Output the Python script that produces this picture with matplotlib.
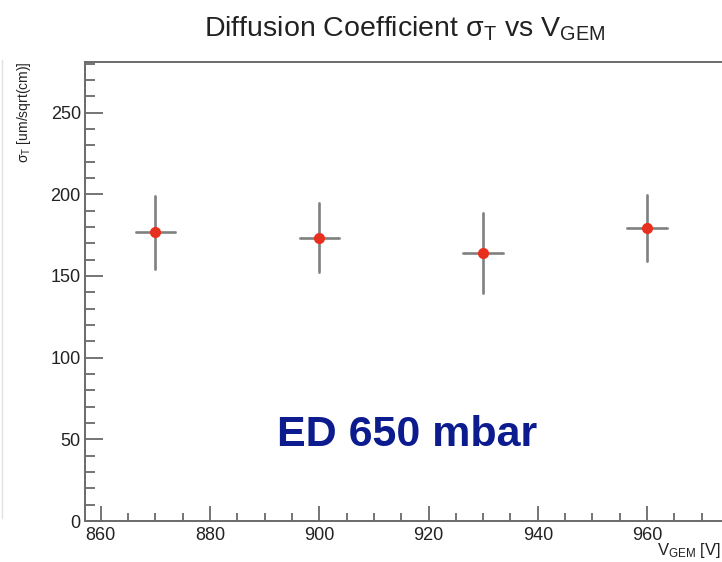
import matplotlib
matplotlib.use("Agg")
import matplotlib.pyplot as plt
from matplotlib.ticker import MultipleLocator
from matplotlib.lines import Line2D

plt.rcParams['font.family'] = ['Liberation Sans', 'DejaVu Sans']
plt.rcParams['mathtext.fontset'] = 'custom'
plt.rcParams['mathtext.rm'] = 'Liberation Sans'
plt.rcParams['mathtext.it'] = 'Liberation Sans'

# Measured transverse diffusion vs GEM voltage
v_gem = [870, 900, 930, 960]
sigma_t = [176.7, 173.4, 164.0, 179.5]
sigma_err = [22.3, 21.0, 24.3, 20.2]
v_err = [3.6, 3.6, 3.6, 3.6]

x_ticks = [860, 880, 900, 920, 940, 960]
y_ticks = [0, 50, 100, 150, 200, 250]

W, H = 722, 562
fig = plt.figure(figsize=(W / 100, H / 100), dpi=100)
ax = fig.add_axes([85 / W, (H - 521) / H, 639 / W, 459 / H])

axis_col = '#6a6a6a'
text_col = '#222222'

ax.errorbar(v_gem, sigma_t, yerr=sigma_err, xerr=v_err, fmt='o',
            color='#e8301e', markersize=7, ecolor='#808080',
            elinewidth=1.9, capsize=1.0, capthick=1.9, zorder=3)

ax.set_xlim(857.1, 974.1)
ax.set_ylim(0, 281)
ax.set_xticks(x_ticks)
ax.set_yticks(y_ticks)
ax.xaxis.set_minor_locator(MultipleLocator(5))
ax.yaxis.set_minor_locator(MultipleLocator(10))

for s in ax.spines.values():
    s.set_color(axis_col)
    s.set_linewidth(1.4)

ax.tick_params(axis='both', which='both', direction='in', color=axis_col,
               width=1.3, labelcolor=text_col, labelsize=13)
ax.tick_params(axis='y', which='major', length=13, pad=3)
ax.tick_params(axis='y', which='minor', length=7)
ax.tick_params(axis='x', which='major', length=10.5, pad=4)
ax.tick_params(axis='x', which='minor', length=6)

fig.text(405 / W, 1 - 29 / H,
         r'Diffusion Coefficient $\mathrm{\sigma_T}$ vs $\mathrm{V_{GEM}}$',
         ha='center', va='center', fontsize=20.5, color=text_col)

fig.text(24 / W, 1 - 62 / H, r'$\mathrm{\sigma_T}$ [um/sqrt(cm)]',
         rotation=90, ha='center', va='top', fontsize=10, color=text_col)

fig.text(721 / W, 1 - 551 / H, r'$\mathrm{V_{GEM}}$ [V]',
         ha='right', va='center', fontsize=12, color=text_col)

ax.text(916, 52.6, 'ED 650 mbar', ha='center', va='center',
        fontsize=31, fontweight='bold', color='#0c1c8e')

# faint canvas edge on the left
fig.add_artist(Line2D([1.5 / W, 1.5 / W], [1 - 518 / H, 1 - 60 / H],
                      transform=fig.transFigure, color='#e2e2e2', lw=1))

fig.savefig('out.png', dpi=100)
